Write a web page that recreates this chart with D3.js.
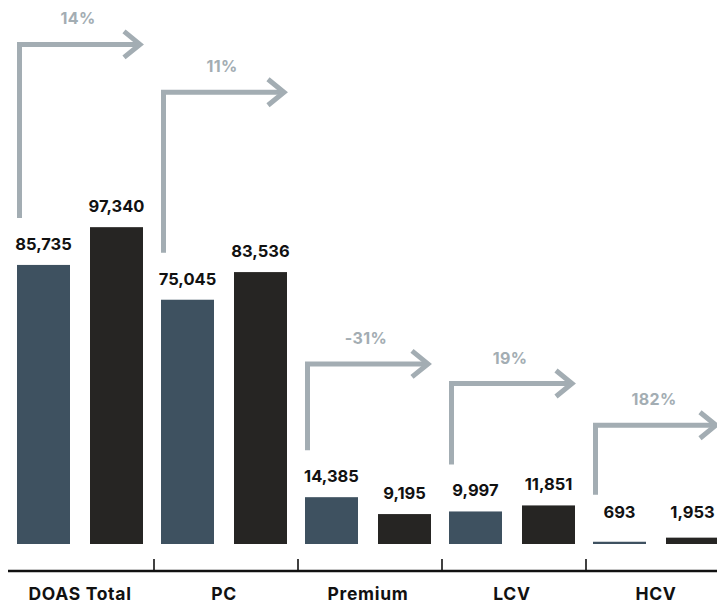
<!DOCTYPE html>
<html>
<head>
<meta charset="utf-8">
<script src="https://cdn.jsdelivr.net/npm/d3@7/dist/d3.min.js"></script>
<style>
  html, body { margin: 0; padding: 0; background: #ffffff; }
  svg { display: block; }
  text { font-family: Inter, "DejaVu Sans", sans-serif; font-weight: 700; }
</style>
</head>
<body>
<svg id="chart" width="717" height="603"></svg>
<script>
// Segments and the two compared periods
const categories = ["DOAS Total", "PC", "Premium", "LCV", "HCV"];
const periods = ["previous", "current"];
const previousValues = [85735, 75045, 14385, 9997, 693];
const currentValues = [97340, 83536, 9195, 11851, 1953];
const changeLabels = ["14%", "11%", "-31%", "19%", "182%"];

const width = 717, height = 603;
const baseY = 544;
const axisY = 571;
const colors = { previous: "#3e5160", current: "#262523" };
const arrowColor = "#a3adb3";

const svg = d3.select("#chart");

// Group bands across the page, and a band for each period inside a group
const x0 = d3.scaleBand().domain(categories).range([10, 730]).paddingInner(0).paddingOuter(0);
const x1 = d3.scaleBand().domain(periods).range([7, 133]).paddingInner(0.274).paddingOuter(0);
const y = d3.scaleLinear().domain([0, 100000]).range([baseY, baseY - 325.5]);

const rows = categories.map((c, i) => ({
  category: c,
  values: [
    { period: "previous", value: previousValues[i] },
    { period: "current", value: currentValues[i] }
  ],
  change: changeLabels[i]
}));

// Bars
const groups = svg.selectAll("g.group").data(rows).join("g")
  .attr("class", "group")
  .attr("transform", d => `translate(${x0(d.category)},0)`);

groups.selectAll("rect").data(d => d.values).join("rect")
  .attr("x", d => x1(d.period))
  .attr("y", d => y(d.value))
  .attr("width", x1.bandwidth())
  .attr("height", d => baseY - y(d.value))
  .attr("fill", d => colors[d.period]);

// Value labels above the bars
groups.selectAll("text.value").data(d => d.values).join("text")
  .attr("class", "value")
  .attr("x", d => x1(d.period) + x1.bandwidth() / 2)
  .attr("y", d => Math.min(y(d.value) - 15, 518))
  .attr("text-anchor", "middle")
  .attr("font-size", 16.5)
  .attr("fill", "#111111")
  .text(d => d3.format(",")(d.value));

// Growth arrows: rise from above the first bar, run over both bars
const arrowLevel = d3.scaleLinear().domain([0, 100000]).range([428.3, 428.3 - 447.8]);
const sw = 5;
groups.each(function(d) {
  const g = d3.select(this);
  const left = x1("previous") + sw / 2;
  const tip = x1("current") + x1.bandwidth() + 1;
  const bottom = y(d.values[0].value) - 47;
  const ay = arrowLevel(d.values[0].value);
  const vx = tip - 4;
  g.append("path")
    .attr("d", `M${left},${bottom}V${ay}H${vx}`)
    .attr("fill", "none")
    .attr("stroke", arrowColor)
    .attr("stroke-width", sw)
    .attr("stroke-linejoin", "miter");
  g.append("path")
    .attr("d", `M${vx - 16},${ay - 13}L${vx},${ay}L${vx - 16},${ay + 13}`)
    .attr("fill", "none")
    .attr("stroke", arrowColor)
    .attr("stroke-width", sw)
    .attr("stroke-linejoin", "miter")
    .attr("stroke-miterlimit", 10);
  g.append("text")
    .attr("x", x0.bandwidth() / 2 - 4)
    .attr("y", ay - 20)
    .attr("text-anchor", "middle")
    .attr("font-size", 16)
    .attr("letter-spacing", 0.4)
    .attr("fill", arrowColor)
    .text(d.change);
});

// Category axis with separators between groups
svg.append("line")
  .attr("x1", 8).attr("x2", width)
  .attr("y1", axisY).attr("y2", axisY)
  .attr("stroke", "#111111").attr("stroke-width", 2.5);

svg.selectAll("line.sep").data(categories.slice(1)).join("line")
  .attr("class", "sep")
  .attr("x1", d => x0(d)).attr("x2", d => x0(d))
  .attr("y1", axisY).attr("y2", axisY - 12)
  .attr("stroke", "#111111").attr("stroke-width", 1.6);

svg.selectAll("text.cat").data(categories).join("text")
  .attr("class", "cat")
  .attr("x", d => x0(d) + x1.range()[0] + (x1.range()[1] - x1.range()[0]) / 2)
  .attr("y", 600)
  .attr("text-anchor", "middle")
  .attr("font-size", 17.5)
  .attr("letter-spacing", 0.7)
  .attr("fill", "#111111")
  .text(d => d);
</script>
</body>
</html>
